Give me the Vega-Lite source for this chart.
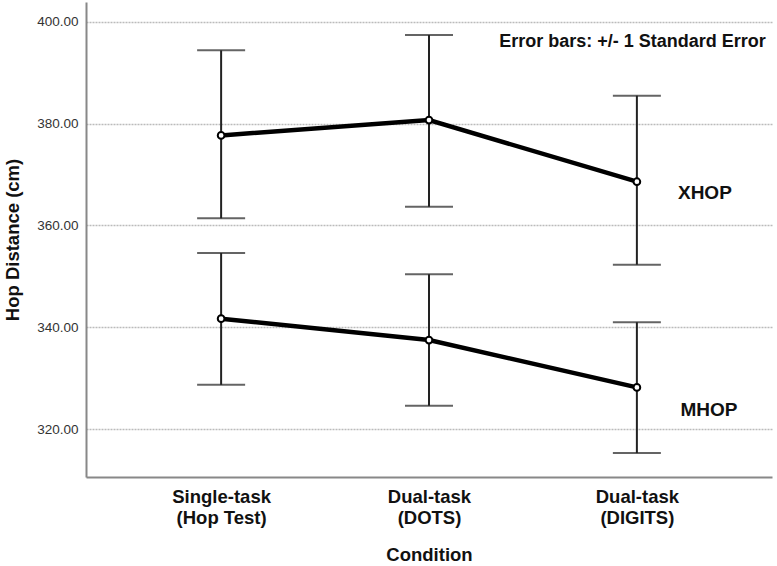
{
  "$schema": "https://vega.github.io/schema/vega-lite/v6.json",
  "width": 686,
  "height": 475,
  "autosize": {"type": "none"},
  "padding": {"left": 86, "top": 2, "right": 5, "bottom": 89},
  "background": "white",
  "config": {
    "view": {"stroke": null},
    "font": "Liberation Sans",
    "axis": {"labelFont": "Liberation Sans", "titleFont": "Liberation Sans"}
  },
  "data": {
    "values": [
      {"cond": "Single-task (Hop Test)", "series": "XHOP", "mean": 377.7, "lo": 361.4, "hi": 394.4},
      {"cond": "Dual-task (DOTS)", "series": "XHOP", "mean": 380.7, "lo": 363.7, "hi": 397.4},
      {"cond": "Dual-task (DIGITS)", "series": "XHOP", "mean": 368.6, "lo": 352.3, "hi": 385.5},
      {"cond": "Single-task (Hop Test)", "series": "MHOP", "mean": 341.7, "lo": 328.7, "hi": 354.6},
      {"cond": "Dual-task (DOTS)", "series": "MHOP", "mean": 337.5, "lo": 324.6, "hi": 350.4},
      {"cond": "Dual-task (DIGITS)", "series": "MHOP", "mean": 328.2, "lo": 315.3, "hi": 341.0}
    ]
  },
  "encoding": {
    "x": {
      "field": "cond",
      "type": "nominal",
      "sort": ["Single-task (Hop Test)", "Dual-task (DOTS)", "Dual-task (DIGITS)"],
      "scale": {"type": "point", "padding": 0.65},
      "axis": {
        "title": "Condition",
        "titleFontSize": 18.5,
        "titleFontWeight": "bold",
        "titleColor": "#111",
        "titlePadding": 19,
        "labelExpr": "[split(datum.value, ' (')[0], '(' + split(datum.value, ' (')[1]]",
        "labelFontSize": 18.5,
        "labelFontWeight": "bold",
        "labelColor": "#111",
        "labelLineHeight": 21,
        "labelPadding": 10,
        "labelAngle": 0,
        "ticks": false,
        "domainColor": "#888",
        "domainWidth": 2,
        "grid": false
      }
    }
  },
  "layer": [
    {
      "mark": {"type": "rule", "color": "#222", "strokeWidth": 2},
      "encoding": {
        "y": {
          "field": "lo",
          "type": "quantitative",
          "scale": {"domain": [310.6, 403.9], "nice": false, "zero": false},
          "axis": {
            "title": "Hop Distance (cm)",
            "titleFontSize": 18.5,
            "titleFontWeight": "bold",
            "titleColor": "#111",
            "titlePadding": 14,
            "values": [320, 340, 360, 380, 400],
            "format": ".2f",
            "labelFontSize": 13.5,
            "labelColor": "#333",
            "labelPadding": 8,
            "ticks": false,
            "domainColor": "#888",
            "domainWidth": 2,
            "grid": true,
            "gridColor": "#bbb",
            "gridWidth": 1.5,
            "gridDash": [2, 1]
          }
        },
        "y2": {"field": "hi"}
      }
    },
    {
      "mark": {"type": "tick", "orient": "horizontal", "color": "#222", "thickness": 2, "size": 48},
      "encoding": {"y": {"field": "lo", "type": "quantitative"}}
    },
    {
      "mark": {"type": "tick", "orient": "horizontal", "color": "#222", "thickness": 2, "size": 48},
      "encoding": {"y": {"field": "hi", "type": "quantitative"}}
    },
    {
      "mark": {"type": "line", "color": "#000", "strokeWidth": 4.5},
      "encoding": {
        "y": {"field": "mean", "type": "quantitative"},
        "detail": {"field": "series"}
      }
    },
    {
      "mark": {"type": "point", "shape": "circle", "filled": true, "fill": "white", "stroke": "#000", "strokeWidth": 2, "size": 45, "opacity": 1},
      "encoding": {"y": {"field": "mean", "type": "quantitative"}}
    },
    {
      "transform": [{"filter": "datum.series == 'XHOP' && datum.cond == 'Dual-task (DIGITS)'"}],
      "mark": {"type": "text", "fontSize": 19, "fontWeight": "bold", "color": "#111", "align": "center", "dx": 68, "dy": 11},
      "encoding": {"y": {"field": "mean", "type": "quantitative"}, "text": {"field": "series"}}
    },
    {
      "transform": [{"filter": "datum.series == 'MHOP' && datum.cond == 'Dual-task (DIGITS)'"}],
      "mark": {"type": "text", "fontSize": 19, "fontWeight": "bold", "color": "#111", "align": "center", "dx": 72, "dy": 23},
      "encoding": {"y": {"field": "mean", "type": "quantitative"}, "text": {"field": "series"}}
    },
    {
      "data": {"values": [{"note": "Error bars: +/- 1 Standard Error", "cond": "Dual-task (DIGITS)", "pos": 396.1}]},
      "mark": {"type": "text", "fontSize": 18, "fontWeight": "bold", "color": "#111", "align": "right", "baseline": "middle", "dx": 129},
      "encoding": {
        "x": {"field": "cond", "type": "nominal"},
        "y": {"field": "pos", "type": "quantitative"},
        "text": {"field": "note"}
      }
    }
  ]
}
